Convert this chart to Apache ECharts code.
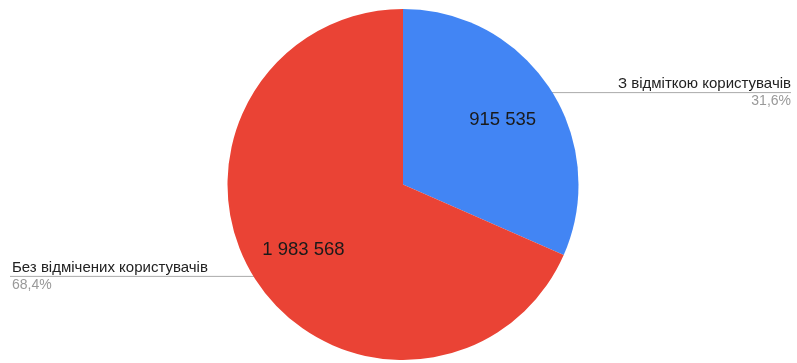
<!DOCTYPE html>
<html>
<head>
<meta charset="utf-8">
<script src="https://cdn.jsdelivr.net/npm/echarts@6/dist/echarts.min.js"></script>
<style>
  html, body { margin: 0; padding: 0; background: #fff; }
  #chart { width: 797px; height: 363px; }
</style>
</head>
<body>
<div id="chart"></div>
<script>
// Slices, in clockwise order starting at 12 o'clock
const categories = ['З відміткою користувачів', 'Без відмічених користувачів'];
const values = [915535, 1983568];
const colors = ['#4285F4', '#EA4335'];

const total = values.reduce((a, b) => a + b, 0);
const fmtNum = v => String(v).replace(/\B(?=(\d{3})+(?!\d))/g, ' ');
const fmtPct = v => (v / total * 100).toFixed(1).replace('.', ',') + '%';

const data = categories.map((name, i) => ({
  name: name,
  value: values[i],
  itemStyle: { color: colors[i] }
}));
const plain = data.map(d => ({ name: d.name, value: d.value }));

const chart = echarts.init(document.getElementById('chart'), null, { renderer: 'canvas' });
const FONT = '"Liberation Sans", Arial, sans-serif';

// shared layout box: labels sit 6px in from each side of it
const box = { left: 6, right: 0, top: 0, bottom: 0 };
const CENTER = [397, 184.5];

chart.setOption({
  animation: false,
  series: [
    {
      // the coloured slices
      type: 'pie',
      ...box,
      center: CENTER,
      radius: 175.5,
      startAngle: 90,
      clockwise: true,
      silent: true,
      data: data,
      label: { show: false },
      labelLine: { show: false }
    },
    {
      // transparent ring carrying the name / percent callouts
      type: 'pie',
      ...box,
      center: CENTER,
      radius: 168,
      startAngle: 90,
      clockwise: true,
      silent: true,
      data: plain,
      itemStyle: { color: 'rgba(0,0,0,0)' },
      label: {
        show: true,
        position: 'outside',
        alignTo: 'edge',
        edgeDistance: 6,
        formatter: p => '{n|' + p.name + '}\n{p|' + fmtPct(p.value) + '}',
        rich: {
          n: { fontFamily: FONT, fontSize: 15, color: '#222', lineHeight: 17 },
          p: { fontFamily: FONT, fontSize: 14, color: '#999', lineHeight: 17 }
        }
      },
      labelLine: {
        show: true,
        length: 0.01,
        length2: 10,
        lineStyle: { color: '#aaa', width: 1 }
      },
      labelLayout: function (params) {
        const isLeft = params.labelRect.x < chart.getWidth() / 2;
        const pts = params.labelLinePoints;
        if (pts) {
          pts[2][0] = isLeft ? params.labelRect.x - 2 : params.labelRect.x + params.labelRect.width;
        }
        return { labelLinePoints: pts };
      }
    },
    {
      // transparent overlay carrying the value labels inside each slice
      type: 'pie',
      ...box,
      center: CENTER,
      radius: 232,
      startAngle: 90,
      clockwise: true,
      silent: true,
      data: plain,
      itemStyle: { color: 'rgba(0,0,0,0)' },
      label: {
        show: true,
        position: 'inside',
        formatter: p => fmtNum(p.value),
        fontFamily: FONT,
        fontSize: 18.5,
        color: '#1a1a1a'
      },
      labelLine: { show: false }
    }
  ]
});
</script>
</body>
</html>
